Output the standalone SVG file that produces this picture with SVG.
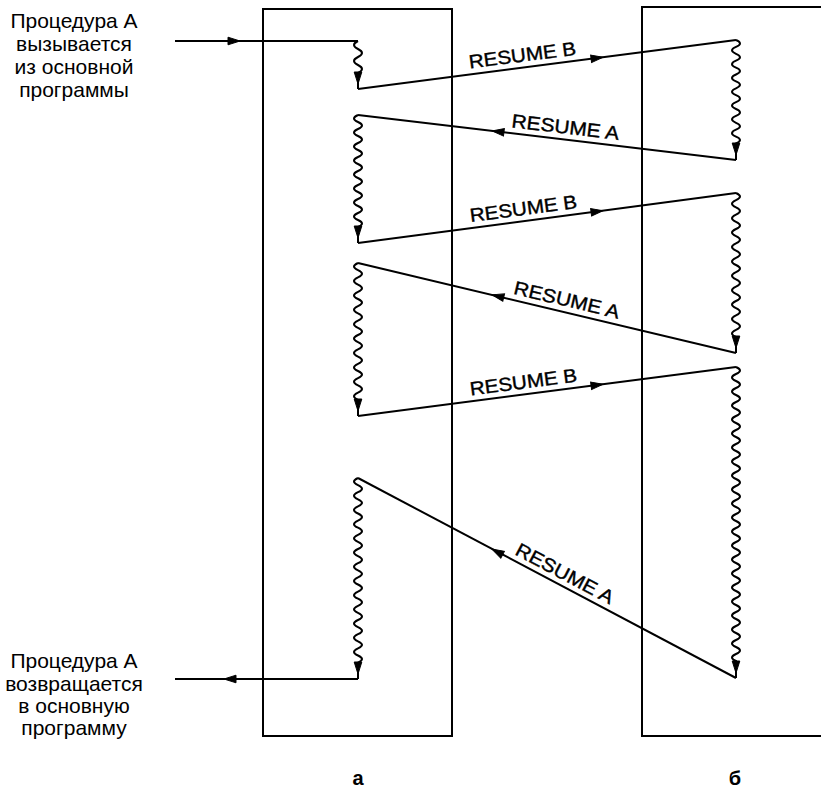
<svg xmlns="http://www.w3.org/2000/svg" xmlns:xlink="http://www.w3.org/1999/xlink" width="821" height="790" viewBox="0 0 821 790">
<style>
.box{fill:none;stroke:#000;stroke-width:2}
.ln{fill:none;stroke:#000;stroke-width:2;stroke-linejoin:round}
.wv{fill:none;stroke:#000;stroke-width:2}
.ah{fill:#000;stroke:#000;stroke-width:1}
.cap{font-family:"Liberation Sans",Arial,sans-serif;font-size:21px;fill:#000;text-anchor:middle}
.res{font-family:"Liberation Sans",Arial,sans-serif;font-size:19px;fill:#000;stroke:#000;stroke-width:0.4;text-anchor:middle}
.lab{font-family:"Liberation Sans",Arial,sans-serif;font-size:20px;font-weight:bold;fill:#000;text-anchor:middle}
</style>
<defs>
<path id="ah" d="M0,0 L-12,-3.8 L-12,3.8 Z"/>
</defs>
<g id="proc-a"><rect class="box" x="263" y="9" width="189" height="727"/><text class="lab" x="358" y="785">а</text></g>
<g id="proc-b"><rect class="box" x="642" y="7" width="192" height="729"/><text class="lab" x="735" y="785">б</text></g>
<g id="label-call"><text class="cap" x="74" y="28">Процедура А</text><text class="cap" x="74" y="51">вызывается</text><text class="cap" x="74" y="74">из основной</text><text class="cap" x="74" y="97">программы</text></g>
<g id="label-return"><text class="cap" x="74" y="668">Процедура А</text><text class="cap" x="74" y="691">возвращается</text><text class="cap" x="74" y="713">в основную</text><text class="cap" x="74" y="735">программу</text></g>
<g id="connectors">
<path class="ln" d="M175,41 L358,41"/>
<path class="wv" d="M358,41 q-8,4 0,8 t0,8 t0,8 t0,8 L358,89"/>
<path class="ln" d="M358,89 L736,40"/>
<path class="wv" d="M736,40 q8,3.45 0,6.9 t0,6.9 t0,6.9 t0,6.9 t0,6.9 t0,6.9 t0,6.9 t0,6.9 t0,6.9 t0,6.9 t0,6.9 t0,6.9 t0,6.9 t0,6.9 t0,6.9 L736,160"/>
<path class="ln" d="M736,160 L358,115"/>
<path class="wv" d="M358,115 q-8,3.5 0,7 t0,7 t0,7 t0,7 t0,7 t0,7 t0,7 t0,7 t0,7 t0,7 t0,7 t0,7 t0,7 t0,7 t0,7 t0,7 L358,243"/>
<path class="ln" d="M358,243 L736,193"/>
<path class="wv" d="M736,193 q8,3.6 0,7.2 t0,7.2 t0,7.2 t0,7.2 t0,7.2 t0,7.2 t0,7.2 t0,7.2 t0,7.2 t0,7.2 t0,7.2 t0,7.2 t0,7.2 t0,7.2 t0,7.2 t0,7.2 t0,7.2 t0,7.2 t0,7.2 t0,7.2 L736,353"/>
<path class="ln" d="M736,353 L358,263"/>
<path class="wv" d="M358,263 q-8,3.6 0,7.2 t0,7.2 t0,7.2 t0,7.2 t0,7.2 t0,7.2 t0,7.2 t0,7.2 t0,7.2 t0,7.2 t0,7.2 t0,7.2 t0,7.2 t0,7.2 t0,7.2 t0,7.2 t0,7.2 t0,7.2 t0,7.2 L358,416"/>
<path class="ln" d="M358,416 L736,367"/>
<path class="wv" d="M736,367 q8,3.5 0,7 t0,7 t0,7 t0,7 t0,7 t0,7 t0,7 t0,7 t0,7 t0,7 t0,7 t0,7 t0,7 t0,7 t0,7 t0,7 t0,7 t0,7 t0,7 t0,7 t0,7 t0,7 t0,7 t0,7 t0,7 t0,7 t0,7 t0,7 t0,7 t0,7 t0,7 t0,7 t0,7 t0,7 t0,7 t0,7 t0,7 t0,7 t0,7 t0,7 t0,7 t0,7 L736,678"/>
<path class="ln" d="M736,678 L358,478"/>
<path class="wv" d="M358,478 q-8,3.55 0,7.1 t0,7.1 t0,7.1 t0,7.1 t0,7.1 t0,7.1 t0,7.1 t0,7.1 t0,7.1 t0,7.1 t0,7.1 t0,7.1 t0,7.1 t0,7.1 t0,7.1 t0,7.1 t0,7.1 t0,7.1 t0,7.1 t0,7.1 t0,7.1 t0,7.1 t0,7.1 t0,7.1 t0,7.1 t0,7.1 L358,679"/>
<path class="ln" d="M358,679 L175,679"/>
<use class="ah" xlink:href="#ah" transform="translate(240,41)"/>
<use class="ah" xlink:href="#ah" transform="translate(224,679) rotate(180)"/>
<use class="ah" xlink:href="#ah" transform="translate(358,84) rotate(90)"/>
<use class="ah" xlink:href="#ah" transform="translate(358,238) rotate(90)"/>
<use class="ah" xlink:href="#ah" transform="translate(358,411) rotate(90)"/>
<use class="ah" xlink:href="#ah" transform="translate(358,674) rotate(90)"/>
<use class="ah" xlink:href="#ah" transform="translate(736,155) rotate(90)"/>
<use class="ah" xlink:href="#ah" transform="translate(736,348) rotate(90)"/>
<use class="ah" xlink:href="#ah" transform="translate(736,673) rotate(90)"/>
<use class="ah" xlink:href="#ah" transform="translate(603,57.3) rotate(-7.37)"/>
<use class="ah" xlink:href="#ah" transform="translate(492,130.9) rotate(186.77)"/>
<use class="ah" xlink:href="#ah" transform="translate(603,210.7) rotate(-7.52)"/>
<use class="ah" xlink:href="#ah" transform="translate(492,294.8) rotate(193.36)"/>
<use class="ah" xlink:href="#ah" transform="translate(603,384.3) rotate(-7.37)"/>
<use class="ah" xlink:href="#ah" transform="translate(492,549.1) rotate(207.94)"/>
<text class="res" transform="translate(524,67.5) rotate(-7.37)" x="0" y="-6" textLength="108" lengthAdjust="spacingAndGlyphs">RESUME B</text>
<text class="res" transform="translate(564,139.5) rotate(6.77)" x="0" y="-6" textLength="108" lengthAdjust="spacingAndGlyphs">RESUME A</text>
<text class="res" transform="translate(525,221) rotate(-7.52)" x="0" y="-6" textLength="108" lengthAdjust="spacingAndGlyphs">RESUME B</text>
<text class="res" transform="translate(564,312) rotate(13.36)" x="0" y="-6" textLength="108" lengthAdjust="spacingAndGlyphs">RESUME A</text>
<text class="res" transform="translate(525,394.4) rotate(-7.37)" x="0" y="-6" textLength="108" lengthAdjust="spacingAndGlyphs">RESUME B</text>
<text class="res" transform="translate(559,584.6) rotate(27.94)" x="0" y="-6" textLength="108" lengthAdjust="spacingAndGlyphs">RESUME A</text>
</g>
</svg>
